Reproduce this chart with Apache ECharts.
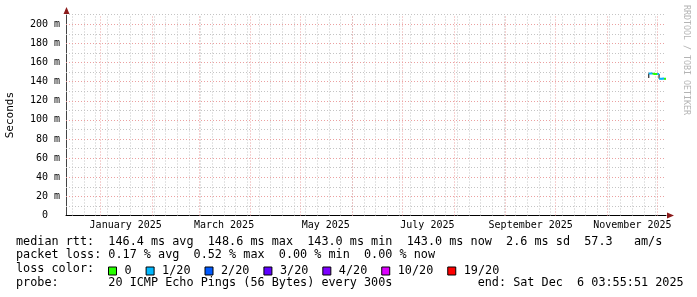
<!DOCTYPE html>
<html><head><meta charset="utf-8">
<script src="https://cdn.jsdelivr.net/npm/echarts@6/dist/echarts.min.js"></script>
<style>html,body{margin:0;padding:0;background:#fff}#c{width:697px;height:297px}</style>
</head><body><div id="c"></div>
<script>
// ---- data ----
const endTime = '2025-12-06T03:55:51';
const spanDays = 360;
const sampleTimes = ['2025-11-25T20:00:00','2025-11-27T00:00:00','2025-11-28T00:00:00','2025-11-29T00:00:00',
  '2025-11-30T00:00:00','2025-12-01T00:00:00','2025-12-02T00:00:00','2025-12-03T00:00:00',
  '2025-12-04T00:00:00','2025-12-05T00:00:00','2025-12-06T03:55:51'];
const medianRtt = [143.8,148.4,148.6,148.2,148.1,148.0,147.9,143.1,143.0,143.2,143.0]; // ms
const lossIndex = [2,1,1,0,0,0,1,1,1,1,0];
const lossNames = ['0','1/20','2/20','3/20','4/20','10/20','19/20'];
const lossColors = ['#26ff00','#00b8ff','#0059ff','#5e00ff','#7e00ff','#dd00ff','#ff0000'];
const yMajorTicks = [0,20,40,60,80,100,120,140,160,180,200];
const yMinorTicks = [10,30,50,70,90,110,130,150,170,190,210];
const yMax = 210;
const monthLabelDates = ['2025-01-16T00:00:00','2025-03-16T00:00:00','2025-05-16T00:00:00','2025-07-16T00:00:00','2025-09-16T00:00:00','2025-11-16T00:00:00'];
const monthLabelTexts = ['January 2025','March 2025','May 2025','July 2025','September 2025','November 2025'];
const statLines = [
  'median rtt:  146.4 ms avg  148.6 ms max  143.0 ms min  143.0 ms now  2.6 ms sd  57.3   am/s',
  'packet loss: 0.17 % avg  0.52 % max  0.00 % min  0.00 % now',
  'loss color:',
  'probe:       20 ICMP Echo Pings (56 Bytes) every 300s            end: Sat Dec  6 03:55:51 2025'
];

// ---- build ----
const MONO = '"DejaVu Sans Mono", monospace';
const DAY = 86400000;
const endMs = new Date(endTime).getTime();
const startMs = endMs - spanDays * DAY;
const tMs = sampleTimes.map(s => new Date(s).getTime());
const labelMs = monthLabelDates.map(s => new Date(s).getTime());

const monthMs = [];
{ const d = new Date(startMs); d.setDate(1); d.setHours(0,0,0,0); d.setMonth(d.getMonth()+1);
  while (d.getTime() < endMs) { monthMs.push(d.getTime()); d.setMonth(d.getMonth()+1); } }
const weekMs = [];
{ const d = new Date(startMs); d.setHours(0,0,0,0); while (d.getDay() !== 0) d.setDate(d.getDate()+1);
  while (d.getTime() < endMs) { weekMs.push(d.getTime()); d.setDate(d.getDate()+7); } }

const baseData = tMs.map((t,i) => [t, medianRtt[i]]);
const lossSeries = lossNames.map((name, L) => {
  const data = [];
  for (let i = 1; i < tMs.length; i++) {
    if (lossIndex[i] === L) {
      data.push([tMs[i-1], medianRtt[i]], [tMs[i], medianRtt[i]], null);
    }
  }
  return {
    name, type: 'line', data, showSymbol: false, connectNulls: false, z: 5,
    color: lossColors[L], itemStyle: {color: lossColors[L]},
    lineStyle: {color: lossColors[L], width: 2}, silent: true, animation: false
  };
});

const minorStyle = {color: '#c4c4c4', width: 1, type: [1, 2]};
const majorStyle = {color: '#eba0a0', width: 1, type: [1, 2]};

const option = {
  backgroundColor: '#ffffff',
  animation: false,
  grid: {left: 66, right: 31, top: 14.7, bottom: 81.5, containLabel: false, outerBoundsMode: 'none'},
  legend: {
    data: lossNames, left: 108, top: 265, padding: 0, itemGap: 14,
    itemWidth: 8, itemHeight: 8, icon: 'rect', selectedMode: false,
    itemStyle: {borderColor: '#000', borderWidth: 1},
    textStyle: {fontFamily: MONO, fontSize: 11.8, color: '#000', padding: [0,0,0,3]}
  },
  xAxis: {
    type: 'value', min: startMs, max: endMs,
    axisLine: {show: true, onZero: false, lineStyle: {color: '#000', width: 1}},
    axisTick: {show: false}, splitLine: {show: false},
    axisLabel: {
      customValues: labelMs, margin: 5,
      formatter: v => { const k = labelMs.indexOf(v); return k >= 0 ? monthLabelTexts[k] : ''; },
      fontFamily: MONO, fontSize: 10, color: '#000'
    }
  },
  yAxis: {
    type: 'value', min: 0, max: yMax,
    name: 'Seconds', nameLocation: 'middle', nameRotate: 90, nameGap: 50,
    nameTextStyle: {fontFamily: MONO, fontSize: 11, color: '#000'},
    axisLine: {show: true, onZero: false, lineStyle: {color: '#444', width: 1}},
    axisTick: {show: false}, splitLine: {show: false},
    axisLabel: {
      customValues: yMajorTicks, margin: 6,
      formatter: v => v === 0 ? '0  ' : v + ' m',
      fontFamily: MONO, fontSize: 10, color: '#000'
    }
  },
  series: [
    { name: 'minorGrid', type: 'line', data: baseData, z: 1, silent: true, showSymbol: false,
      lineStyle: {opacity: 0},
      markLine: { silent: true, symbol: ['none','none'], label: {show: false}, animation: false,
        lineStyle: minorStyle,
        data: weekMs.map(t => ({xAxis: t})).concat(yMinorTicks.map(v => ({yAxis: v}))) } },
    { name: 'majorGrid', type: 'line', data: baseData, z: 2, silent: true, showSymbol: false,
      lineStyle: {opacity: 0},
      markLine: { silent: true, symbol: ['none','none'], label: {show: false}, animation: false,
        lineStyle: majorStyle,
        data: monthMs.map(t => ({xAxis: t})).concat(yMajorTicks.filter(v => v > 0).map(v => ({yAxis: v}))) } },
    { name: 'median', type: 'line', data: baseData, step: 'start', z: 4, silent: true, showSymbol: false,
      lineStyle: {color: '#000', width: 1} }
  ].concat(lossSeries),
  graphic: [
    {type: 'polygon', shape: {points: [[66.5,7],[63.5,14],[69.5,14]]}, style: {fill: '#8b1a1a'}, silent: true},
    {type: 'polygon', shape: {points: [[674,215.5],[667,212.5],[667,218.5]]}, style: {fill: '#8b1a1a'}, silent: true},
    {type: 'text', x: 686, y: 5, rotation: -Math.PI/2, silent: true,
      style: {text: 'RRDTOOL / TOBI OETIKER', font: '8.3px ' + MONO, fill: '#b4b4b4', align: 'left', verticalAlign: 'middle'}},
    {type: 'text', x: 16, y: 241.7, silent: true, style: {text: statLines[0], font: '11.8px ' + MONO, fill: '#000', verticalAlign: 'middle'}},
    {type: 'text', x: 16, y: 255.4, silent: true, style: {text: statLines[1], font: '11.8px ' + MONO, fill: '#000', verticalAlign: 'middle'}},
    {type: 'text', x: 16, y: 269.1, silent: true, style: {text: statLines[2], font: '11.8px ' + MONO, fill: '#000', verticalAlign: 'middle'}},
    {type: 'text', x: 16, y: 282.8, silent: true, style: {text: statLines[3], font: '11.8px ' + MONO, fill: '#000', verticalAlign: 'middle'}}
  ]
};
const chart = echarts.init(document.getElementById('c'));
chart.setOption(option);
</script>
</body></html>
